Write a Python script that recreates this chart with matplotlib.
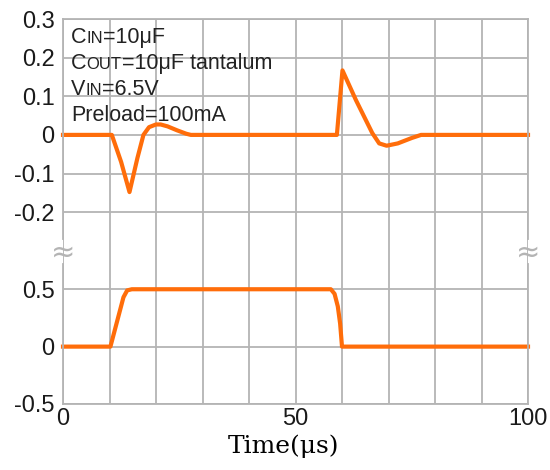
import matplotlib
matplotlib.use("Agg")
import matplotlib.pyplot as plt
from matplotlib.offsetbox import TextArea, HPacker, VPacker, AnchoredOffsetbox

# upper trace (output deviation)
t_top = [0, 10.5, 12.5, 14.3, 16.0, 17.3, 18.5, 20.0, 21.0, 22.5, 24.5, 26.5, 27.5,
         58.9, 60.1, 63.0, 66.5, 68.0, 69.6, 72.0, 75.0, 77.0, 100]
v_top = [0, 0, -0.07, -0.148, -0.06, 0.0, 0.02, 0.027, 0.027, 0.022, 0.012, 0.003, 0,
         0, 0.167, 0.09, 0.005, -0.022, -0.028, -0.022, -0.008, 0, 0]

# lower trace (load step)
t_bot = [0, 10.2, 13.0, 13.8, 14.8, 57.6, 58.4, 59.1, 59.6, 60.0, 100]
v_bot = [0, 0, 0.43, 0.49, 0.5, 0.5, 0.46, 0.35, 0.2, 0, 0]

top_ticks = [0.3, 0.2, 0.1, 0, -0.1, -0.2]
top_labels = ["0.3", "0.2", "0.1", "0", "-0.1", "-0.2"]
bot_ticks = [0.5, 0, -0.5]
bot_labels = ["0.5", "0", "-0.5"]
x_ticks = [0, 50, 100]
x_grid = list(range(10, 100, 10))

orange = "#ff6d0a"
gray = "#b4b4b4"
font = "Liberation Sans"

fig = plt.figure(figsize=(5.5, 4.7), dpi=100)
L, R = 63 / 550, 528 / 550
ax1 = fig.add_axes([L, 1 - 250.8 / 470, R - L, (250.8 - 19) / 470])
ax2 = fig.add_axes([L, 1 - 404 / 470, R - L, (404 - 250.8) / 470], sharex=ax1)

ax1.set_ylim(-0.3, 0.3)
ax2.set_ylim(-0.5, 0.835)
ax1.set_xlim(0, 100)

for ax in (ax1, ax2):
    ax.set_xticks(x_grid, minor=True)
    ax.grid(True, which="both", axis="x", color=gray, lw=1.3)
    ax.grid(True, which="major", axis="y", color=gray, lw=1.3)
    ax.tick_params(which="both", length=0, labelsize=17, pad=6, labelcolor="#1a1a1a")
    for s in ax.spines.values():
        s.set_color(gray)
        s.set_linewidth(1.3)
    ax.set_axisbelow(True)

ax1.set_yticks(top_ticks, top_labels, family=font)
ax2.set_yticks(bot_ticks, bot_labels, family=font)
ax2.set_xticks(x_ticks, [str(x) for x in x_ticks], family=font)
ax1.tick_params(axis="x", labelbottom=False)
ax2.tick_params(axis="x", pad=3)

ax1.spines["bottom"].set_visible(False)
ax2.spines["top"].set_visible(False)
for side in ("left", "right"):
    ax1.spines[side].set_bounds(-0.27, 0.3)
    ax2.spines[side].set_bounds(-0.5, 0.72)

ax1.plot(t_top, v_top, color=orange, lw=3, solid_joinstyle="round", clip_on=False)
ax2.plot(t_bot, v_bot, color=orange, lw=3, solid_joinstyle="round", clip_on=False)

for xb in (L, R):
    fig.text(xb, 1 - 253 / 470, "\u2248", color=gray, ha="center", va="center", fontsize=21)

ax2.set_xlabel("Time(\u03bcs)", family="DejaVu Serif", fontsize=18, labelpad=2)
ax2.xaxis.set_label_coords(0.475, -0.2)

# annotation with small-caps subscripts
big, small = 15.5, 12
def part(s, size):
    return TextArea(s, textprops=dict(size=size, family=font, color="#222222"))

lines = [
    [("C", big), ("IN", small), ("=10\u03bcF", big)],
    [("C", big), ("OUT", small), ("=10\u03bcF tantalum", big)],
    [("V", big), ("IN", small), ("=6.5V", big)],
    [("Preload=100mA", big)],
]
rows = [HPacker(children=[part(s, z) for s, z in ln], align="baseline", pad=0, sep=0)
        for ln in lines]
box = VPacker(children=rows, align="left", pad=0, sep=3.5)
anchored = AnchoredOffsetbox(loc="upper left", child=box, pad=0, frameon=False,
                             bbox_to_anchor=(71 / 550, 1 - 27 / 470),
                             bbox_transform=fig.transFigure, borderpad=0)
fig.add_artist(anchored)

fig.savefig("out.png", dpi=100)
